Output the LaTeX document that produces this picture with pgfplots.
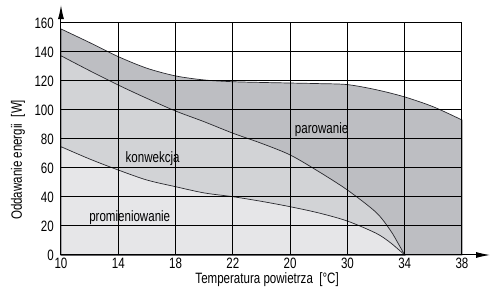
\documentclass[border=0pt]{standalone}
\usepackage{fontspec}
\setmainfont{Liberation Sans}[FakeStretch=0.77]
\usepackage{pgfplots}
\pgfplotsset{compat=1.18}
\usetikzlibrary{arrows.meta}
\definecolor{dark}{RGB}{189,190,194}
\definecolor{mid}{RGB}{210,211,214}
\definecolor{light}{RGB}{230,230,232}
\definecolor{curve}{RGB}{40,40,45}
\begin{document}
\fontsize{15}{17}\selectfont
\begin{tikzpicture}[x=1pt,y=1pt]
\useasboundingbox (-61,-44) rectangle (429,255);
\begin{axis}[
  scale only axis, width=401pt, height=232pt,
  xmin=0, xmax=7, ymin=0, ymax=160,
  xtick={0,...,7},
  xticklabels={10,14,18,22,20,30,34,38},
  ytick={0,20,...,160},
  grid=major,
  grid style={black, line width=1pt},
  axis line style={black, line width=1pt},
  major tick length=0pt,
  axis on top,
  clip=false,
  tick label style={font=\fontsize{15}{17}\selectfont},
  /pgf/number format/assume math mode=true,
  xticklabel style={yshift=2.5pt},
  yticklabel style={xshift=-2pt},
  xlabel={Temperatura powietrza\ \ [°C]},
  ylabel={Oddawanie energii\ \ [W]},
  label style={font=\fontsize{15}{17}\selectfont},
  xlabel style={at={(axis description cs:0.514,-0.104)}, anchor=center},
  ylabel style={at={(axis description cs:-0.107,0.41)}, anchor=center, rotate=0},
]
% parowanie (total)
\addplot[fill=dark, draw=curve, line width=0.7pt, smooth] coordinates {
 (0,155.9) (0.5,146.5) (1,136.8) (1.5,128.8) (2,123.5) (2.5,120.7) (3,119.5)
 (3.5,119.0) (4,118.6) (4.5,118.2) (5,117.5) (5.5,114.0) (6,109.0) (6.5,102.2) (7,93.1)
} \closedcycle;
% konwekcja
\addplot[fill=mid, draw=curve, line width=0.7pt, smooth] coordinates {
 (0,137.4) (0.5,127.1) (1,117.2) (1.5,108.0) (2,99.3) (2.5,91.9) (3,84.0)
 (3.5,77.0) (4,69.0) (4.5,57.5) (5,44.8) (5.5,29.4) (5.75,17.0) (5.9,7.0) (6,0)
} \closedcycle;
% promieniowanie
\addplot[fill=light, draw=curve, line width=0.7pt, smooth] coordinates {
 (0,74.7) (0.5,66.2) (1,58.6) (1.5,51.7) (2,47.1) (2.5,42.8) (3,40.2)
 (3.5,37.0) (4,33.3) (4.5,29.0) (5,23.4) (5.5,15.0) (5.75,8.5) (6,0)
} \closedcycle;
\node[font=\fontsize{15}{17}\selectfont] at (axis cs:4.55,86.2) {parowanie};
\node[font=\fontsize{15}{17}\selectfont] at (axis cs:1.6,66.2) {konwekcja};
\node[font=\fontsize{15}{17}\selectfont] at (axis cs:1.2,26) {promieniowanie};
\draw[black, line width=1pt, -{Latex[length=14pt,width=6pt]}] (axis cs:7,0) -- (axis cs:7.49,0);
\draw[black, line width=1pt, -{Latex[length=14pt,width=6pt]}] (axis cs:0,160) -- (axis cs:0,172.4);
\end{axis}
\end{tikzpicture}
\end{document}
